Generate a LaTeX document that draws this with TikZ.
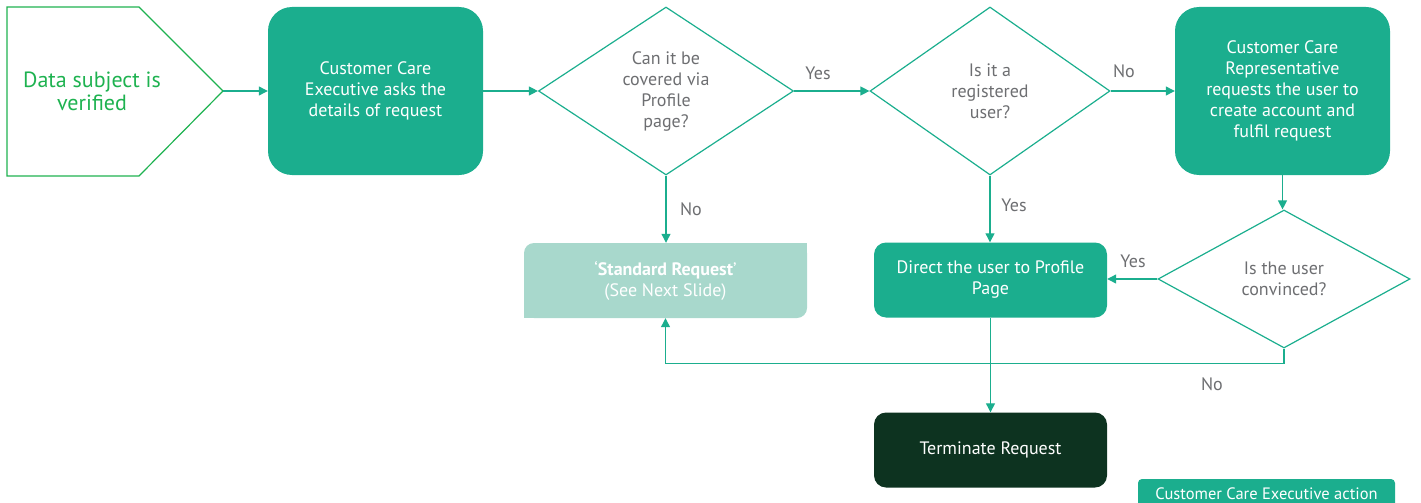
\documentclass[tikz,border=0pt]{standalone}
\usepackage{fontspec}
\setmainfont{PT Sans}
\usetikzlibrary{shapes.geometric,arrows.meta}
\definecolor{ccteal}{RGB}{27,174,142}
\definecolor{cclight}{RGB}{168,216,204}
\definecolor{ccdark}{RGB}{13,51,32}
\definecolor{ccgreen}{RGB}{30,178,80}
\definecolor{ccgray}{RGB}{109,110,113}
\begin{document}
\begin{tikzpicture}[x=1pt,y=-1pt]
        \tikzstyle{actbox}=[rectangle, rounded corners=24pt, fill=ccteal, text=white, align=center, inner sep=0pt, font=\fontsize{18}{21}\selectfont]
        \tikzstyle{smallbox}=[actbox, rounded corners=12pt, minimum width=233pt, minimum height=75pt]
        \tikzstyle{decision}=[diamond, draw=ccteal, line width=1.2pt, text=ccgray, align=center, inner sep=0pt, font=\fontsize{18}{21}\selectfont]
        \tikzstyle{answer}=[text=ccgray, font=\fontsize{18}{20}\selectfont]
        \tikzstyle{link}=[-{Triangle[length=9pt,width=9pt]}, draw=ccteal, line width=1.2pt]
        \useasboundingbox (0,0) rectangle (1421,503);
        % start shape
        \draw[ccgreen, line width=1.2pt] (7,7) -- (139,7) -- (223,91) -- (139,176) -- (7,176) -- cycle;
        \coordinate (tip) at (223,91);
        \node[text=ccgreen, align=center, font=\fontsize{22}{23}\selectfont] (verified) at (92,91) {Data subject is\\verified};
        % top row
        \node[actbox, minimum width=215pt, minimum height=168pt] (ask) at (375.5,91) {Customer Care\\Executive asks the\\details of request};
        \node[decision, minimum width=255pt, minimum height=168pt] (profileq) at (666,91) {Can it be\\covered via\\Profile\\page?};
        \node[decision, minimum width=240pt, minimum height=168pt] (registered) at (990,91) {Is it a\\registered\\user?};
        \node[actbox, minimum width=215pt, minimum height=168pt] (create) at (1282.5,91) {Customer Care\\Representative\\requests the user to\\create account and\\fulfil request};
        % middle row
        \node[actbox, rounded corners=10pt, fill=cclight, minimum width=283pt, minimum height=75pt] (standard) at (665.5,280.5) {‘\textbf{Standard Request}’\\(See Next Slide)};
        \fill[cclight] (standard.north east) rectangle ++(-12,12);
        \fill[cclight] (standard.south west) rectangle ++(12,-12);
        \node[smallbox] (direct) at (990.5,280) {Direct the user to Profile\\Page};
        \node[decision, minimum width=252pt, minimum height=138pt] (convinced) at (1284,279) {Is the user\\convinced?};
        % bottom row
        \node[smallbox, fill=ccdark] (terminate) at (990.5,450) {Terminate Request};
        \node[actbox, rounded corners=4pt, minimum width=257pt, minimum height=30pt, font=\fontsize{16.5}{18}\selectfont] (legend) at (1266.5,494) {Customer Care Executive action};
        % connectors
        \draw[link] (tip) -- (ask.west);
        \draw[link] (ask.east) -- (profileq.west);
        \draw[link] (profileq.east) -- (registered.west);
        \draw[link] (registered.east) -- (create.west);
        \draw[link] (create.south) -- (create.south |- convinced.north);
        \draw[link] (profileq.south) -- (profileq.south |- standard.north);
        \draw[link] (registered.south) -- (registered.south |- direct.north);
        \draw[link] (convinced.west) -- (direct.east |- convinced.west);
        \draw[link] (convinced.south) -- ++(0,15) -| (standard.south);
        \draw[link] (direct.south) -- (terminate.north);
        % answers
        \node[answer] (yes1) at (818,73) {Yes};
        \node[answer] (no1) at (1124,71) {No};
        \node[answer] (no2) at (691,209) {No};
        \node[answer] (yes2) at (1014,205) {Yes};
        \node[answer] (yes3) at (1133,261) {Yes};
        \node[answer] (no3) at (1212,384) {No};
      \end{tikzpicture}
\end{document}
